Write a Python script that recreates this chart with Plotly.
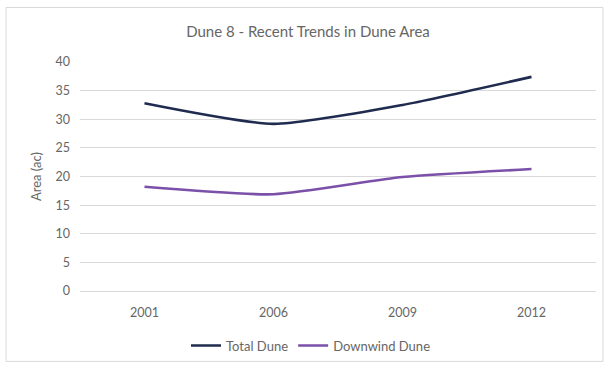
import plotly.graph_objects as go

years = ["2001", "2006", "2009", "2012"]
total_dune = [32.8, 29.2, 32.5, 37.4]
downwind_dune = [18.2, 16.9, 19.9, 21.3]
series_names = ["Total Dune", "Downwind Dune"]

W, H = 604, 369
L, R, T, B = 80, 8, 62, 76
pw, ph = W - L - R, H - T - B

def px_x(x):
    return (x - L) / pw

def px_y(y):
    return (H - B - y) / ph

font_family = "Lato, 'Open Sans', sans-serif"
gray = "#666666"

fig = go.Figure()
fig.add_trace(go.Scatter(x=years, y=total_dune, mode="lines", name=series_names[0],
                         line=dict(color="#1F2B4F", width=2.6, shape="spline", smoothing=0.6)))
fig.add_trace(go.Scatter(x=years, y=downwind_dune, mode="lines", name=series_names[1],
                         line=dict(color="#7A50A8", width=2.6, shape="spline", smoothing=0.6)))

fig.update_layout(
    width=W, height=H,
    margin=dict(l=L, r=R, t=T, b=B),
    paper_bgcolor="white", plot_bgcolor="white",
    font=dict(family=font_family, size=12.5, color=gray),
    title=dict(text="Dune 8 - Recent Trends in Dune Area", x=px_x(308), xref="paper",
               y=1 - 32 / H, yref="container", xanchor="center", yanchor="middle",
               font=dict(size=15, color=gray, family=font_family)),
    xaxis=dict(type="category", range=[-0.5, 3.5], showgrid=False, showline=False,
               ticks="", tickfont=dict(size=12.5, color=gray), ticklabelstandoff=12),
    yaxis=dict(range=[0, 40], dtick=5, showgrid=True, gridcolor="#D9D9D9", gridwidth=1,
               zeroline=True, zerolinecolor="#D9D9D9", zerolinewidth=1, showline=False,
               ticks="", tickfont=dict(size=12.5, color=gray), ticklabelstandoff=9,
               title=dict(text="Area (ac)", font=dict(size=13, color=gray), standoff=10)),
    legend=dict(orientation="h", x=px_x(311), xanchor="center", y=px_y(348), yanchor="middle",
                font=dict(size=13, color=gray), tracegroupgap=0,
                bgcolor="rgba(0,0,0,0)"),
    showlegend=True,
)

fig.add_shape(type="rect", xref="paper", yref="paper",
              x0=px_x(6), x1=px_x(603), y0=px_y(364), y1=px_y(7),
              line=dict(color="#D9D9D9", width=1), fillcolor="rgba(0,0,0,0)", layer="below")

fig.write_html("out.html")
